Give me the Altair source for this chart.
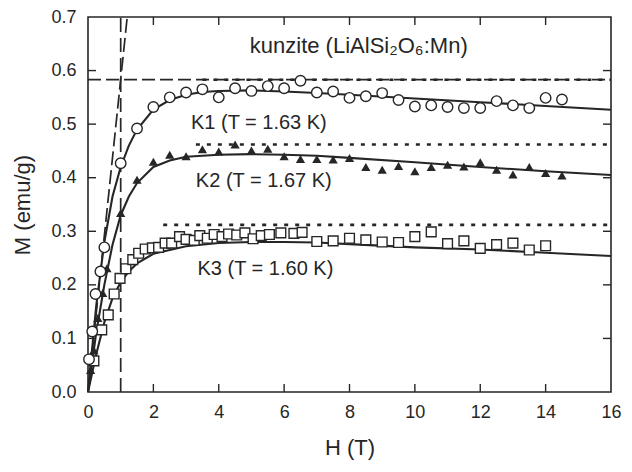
import altair as alt
import pandas as pd

# ---------------- data ----------------
k1_H = [0.03, 0.13, 0.23, 0.38, 0.5, 1.0, 1.5, 2.0, 2.5, 3.0, 3.5, 4.0, 4.5, 5.0, 5.5, 6.0,
        6.5, 7.0, 7.5, 8.0, 8.5, 9.0, 9.5, 10.0, 10.5, 11.0, 11.5, 12.0, 12.5, 13.0,
        13.5, 14.0, 14.5]
k1_M = [0.061, 0.113, 0.183, 0.225, 0.270, 0.427, 0.492, 0.532, 0.550, 0.559, 0.565,
        0.550, 0.567, 0.562, 0.571, 0.567, 0.581, 0.559, 0.561, 0.549, 0.552, 0.558,
        0.545, 0.533, 0.535, 0.532, 0.530, 0.530, 0.543, 0.535, 0.530, 0.549, 0.546]

k2_H = [0.08, 0.18, 0.3, 0.45, 0.58, 1.0, 1.5, 2.0, 2.5, 3.0, 3.5, 4.0, 4.5, 5.0, 5.5, 6.0,
        6.5, 7.0, 7.5, 8.0, 8.5, 9.0, 9.5, 10.0, 10.5, 11.0, 11.5, 12.0, 12.5, 13.0,
        13.5, 14.0, 14.5]
k2_M = [0.041, 0.078, 0.138, 0.185, 0.231, 0.334, 0.396, 0.430, 0.443, 0.440, 0.453,
        0.449, 0.462, 0.451, 0.454, 0.440, 0.435, 0.435, 0.434, 0.437, 0.420, 0.415,
        0.422, 0.412, 0.420, 0.424, 0.421, 0.429, 0.415, 0.406, 0.420, 0.409, 0.404]

k3_H = [0.18, 0.42, 0.62, 0.8, 0.98, 1.16, 1.37, 1.55, 1.75, 1.97, 2.16, 2.36, 2.56, 2.8,
        3.0, 3.25, 3.42, 3.65, 3.86, 4.1, 4.3, 4.55, 4.8, 5.05, 5.3, 5.55, 5.9, 6.3, 6.55,
        7.0, 7.5, 8.0, 8.5, 9.0, 9.5, 10.0, 10.5, 11.0, 11.5, 12.0, 12.5, 13.0, 13.5, 14.0]
k3_M = [0.058, 0.116, 0.144, 0.183, 0.212, 0.230, 0.247, 0.259, 0.267, 0.269, 0.270,
        0.278, 0.278, 0.290, 0.285, 0.283, 0.292, 0.287, 0.294, 0.290, 0.295, 0.293,
        0.297, 0.286, 0.292, 0.294, 0.297, 0.296, 0.298, 0.281, 0.282, 0.287, 0.284,
        0.280, 0.279, 0.290, 0.299, 0.277, 0.282, 0.268, 0.275, 0.278, 0.265, 0.273]

# fitted curves (solid lines)
fit1_H = [0, 0.25, 0.5, 0.75, 1.0, 1.25, 1.5, 2.0, 2.5, 3.0, 3.5, 4.0, 5.0, 6.0, 7.0, 8.0, 10.0, 12.0, 14.0, 16.0]
fit1_M = [0, 0.16, 0.28, 0.365, 0.42, 0.46, 0.49, 0.527, 0.545, 0.555, 0.56, 0.562, 0.563, 0.561, 0.558, 0.555, 0.548, 0.541, 0.534, 0.527]
fit2_H = [0, 0.25, 0.5, 0.75, 1.0, 1.25, 1.5, 2.0, 2.5, 3.0, 4.0, 5.0, 6.0, 7.0, 8.0, 10.0, 12.0, 14.0, 16.0]
fit2_M = [0, 0.11, 0.2, 0.275, 0.33, 0.365, 0.39, 0.42, 0.432, 0.439, 0.443, 0.444, 0.443, 0.441, 0.437, 0.429, 0.42, 0.412, 0.405]
fit3_H = [0, 0.25, 0.5, 0.75, 1.0, 1.25, 1.5, 2.0, 3.0, 4.0, 5.0, 6.0, 7.0, 8.0, 10.0, 12.0, 14.0, 16.0]
fit3_M = [0, 0.07, 0.13, 0.175, 0.205, 0.225, 0.24, 0.258, 0.272, 0.278, 0.28, 0.28, 0.279, 0.276, 0.27, 0.266, 0.26, 0.254]

# saturation levels (dotted) and the reference dashed lines
sat1, sat2, sat3 = 0.583, 0.462, 0.312
dot_start = [3.5, 3.3, 2.3]
vline_H = 1.0
slope_end = [1.2, 0.7]

x_ticks = [0, 2, 4, 6, 8, 10, 12, 14, 16]
y_ticks = [0.0, 0.1, 0.2, 0.3, 0.4, 0.5, 0.6, 0.7]

labels = ["K1 (T = 1.63 K)", "K2 (T = 1.67 K)", "K3 (T = 1.60 K)"]
label_H = [3.15, 3.3, 3.35]
label_M = [0.503, 0.394, 0.230]
title_text = "kunzite (LiAlSi\u2082O\u2086:Mn)"

# ---------------- chart ----------------
FONT = "Liberation Sans"
INK = "#262626"
W, HGT = 523, 375

xs = alt.Scale(domain=[0, 16], nice=False, zero=False)
ys = alt.Scale(domain=[0, 0.7], nice=False, zero=False)
xaxis = alt.Axis(title="H (T)", values=x_ticks, format="d", tickSize=0, domain=False, grid=False,
                 labelFontSize=18, titleFontSize=22, labelPadding=11, titlePadding=16,
                 labelFont=FONT, titleFont=FONT, labelColor=INK, titleColor=INK,
                 titleFontWeight="normal", labelFlush=False)
yaxis = alt.Axis(title="M (emu/g)", values=y_ticks, format=".1f", tickSize=0, domain=False, grid=False,
                 labelFontSize=18, titleFontSize=22, labelPadding=12, titlePadding=16,
                 labelFont=FONT, titleFont=FONT, labelColor=INK, titleColor=INK,
                 titleFontWeight="normal", labelFlush=False)

X = alt.X("H:Q", scale=xs, axis=xaxis)
Y = alt.Y("M:Q", scale=ys, axis=yaxis)


def line_df(h, m):
    return pd.DataFrame({"H": h, "M": m})


fits = pd.concat([
    line_df(fit1_H, fit1_M).assign(s="K1"),
    line_df(fit2_H, fit2_M).assign(s="K2"),
    line_df(fit3_H, fit3_M).assign(s="K3"),
])
fit_layer = alt.Chart(fits).mark_line(color=INK, strokeWidth=2.1).encode(x=X, y=Y, detail="s:N")

# dashed reference lines
sat_dash = alt.Chart(line_df([0, 16], [sat1, sat1])).mark_line(
    color=INK, strokeWidth=1.7, strokeDash=[13, 5]).encode(x=X, y=Y)
vline = alt.Chart(line_df([vline_H, vline_H], [0, 0.7])).mark_line(
    color=INK, strokeWidth=1.7, strokeDash=[14, 6]).encode(x=X, y=Y)
slope = alt.Chart(line_df([0, slope_end[0]], [0, slope_end[1]])).mark_line(
    color=INK, strokeWidth=1.7, strokeDash=[14, 5], clip=True).encode(x=X, y=Y)

dots = pd.concat([
    line_df([dot_start[0], 16], [sat1, sat1]).assign(s="K1"),
    line_df([dot_start[1], 16], [sat2, sat2]).assign(s="K2"),
    line_df([dot_start[2], 16], [sat3, sat3]).assign(s="K3"),
])
dot_layer = alt.Chart(dots).mark_line(color=INK, strokeWidth=2.6, strokeDash=[4, 7]).encode(
    x=X, y=Y, detail="s:N")

k1 = alt.Chart(line_df(k1_H, k1_M)).mark_point(
    shape="circle", size=110, filled=True, fill="white", stroke=INK, strokeWidth=1.4, opacity=1
).encode(x=X, y=Y)
k2 = alt.Chart(line_df(k2_H, k2_M)).mark_point(
    shape="triangle-up", size=85, filled=True, color=INK, opacity=1
).encode(x=X, y=Y)
k3 = alt.Chart(line_df(k3_H, k3_M)).mark_point(
    shape="square", size=95, filled=True, fill="white", stroke=INK, strokeWidth=1.4, opacity=1
).encode(x=X, y=Y)

lab_df = pd.DataFrame({"H": label_H, "M": label_M, "t": labels})
lab_layer = alt.Chart(lab_df).mark_text(
    align="left", baseline="middle", font=FONT, fontSize=20, color=INK
).encode(x=X, y=Y, text="t:N")

ttl_layer = alt.Chart(pd.DataFrame({"H": [4.95], "M": [0.632], "t": [title_text]})).mark_text(
    align="left", baseline="alphabetic", font=FONT, fontSize=22, color=INK
).encode(x=X, y=Y, text="t:N")

# inward ticks on all four sides
TL = 8
xt = pd.DataFrame({"H": x_ticks[1:-1]})
yt = pd.DataFrame({"M": y_ticks[1:-1]})
tick_b = alt.Chart(xt).mark_rule(color=INK, strokeWidth=1.4).encode(
    x=X, y=alt.value(HGT), y2=alt.value(HGT - TL))
tick_t = alt.Chart(xt).mark_rule(color=INK, strokeWidth=1.4).encode(
    x=X, y=alt.value(0), y2=alt.value(TL))
tick_l = alt.Chart(yt).mark_rule(color=INK, strokeWidth=1.4).encode(
    y=Y, x=alt.value(0), x2=alt.value(TL))
tick_r = alt.Chart(yt).mark_rule(color=INK, strokeWidth=1.4).encode(
    y=Y, x=alt.value(W), x2=alt.value(W - TL))

chart = alt.layer(
    tick_b, tick_t, tick_l, tick_r,
    sat_dash, vline, slope, dot_layer, fit_layer, k3, k2, k1, lab_layer, ttl_layer
).properties(
    width=W, height=HGT,
    autosize=alt.AutoSizeParams(type="none"),
    padding={"left": 80, "top": 9, "right": 13, "bottom": 72},
    background="white",
).configure_view(stroke=INK, strokeWidth=1.6)

chart.save("out.html", embed_options={"renderer": "svg", "actions": False})
